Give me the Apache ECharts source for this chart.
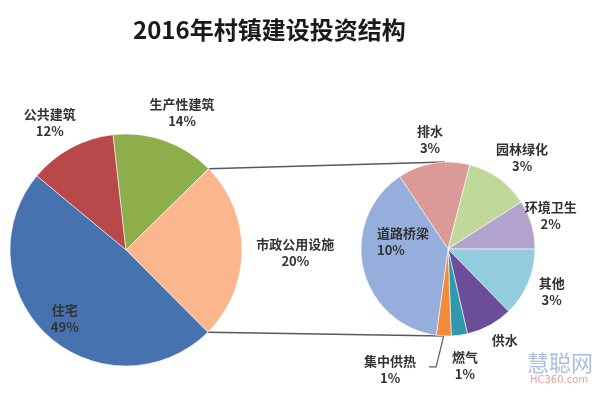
<!DOCTYPE html>
<html><head><meta charset="utf-8">
<script src="https://cdn.jsdelivr.net/npm/echarts@6/dist/echarts.min.js"></script>
<style>html,body{margin:0;padding:0;background:#fff}#c{width:600px;height:394px}</style>
</head><body><div id="c"></div>
<script>
// ---- data ----
const titleText = '2016年村镇建设投资结构';
const mainNames = ['公共建筑', '生产性建筑', '市政公用设施', '住宅'];
const mainValues = [12.2, 14.4, 24.9, 48.5];
const mainLabels = ['12%', '14%', '20%', '49%'];
const subNames = ['排水', '园林绿化', '环境卫生', '其他', '供水', '燃气', '集中供热', '道路桥梁'];
const subValues = [13.4, 11.9, 9.1, 12.7, 8.7, 3.0, 2.75, 38.5];
const subLabels = ['3%', '3%', '2%', '3%', '', '1%', '1%', '10%'];
const watermark = ['慧聪网', 'HC360.com'];

// ---- layout / style ----
const mainColors = ['#B9484A', '#8DAE4A', '#FBB68E', '#4772B0'];
const subColors = ['#DB9A98', '#C0D89A', '#B2A2CE', '#93CDDD', '#6B4E9A', '#2F9AAE', '#F08B3A', '#95AEDB'];
const L = { cx: 126, cy: 250, r: 116, start: 140.3 };
const R = { cx: 448, cy: 249, r: 87, start: 123.7 };
const mainLabelPolar = [[120.9, 1.28], [67.8, 1.28], [-1, 1.46], [228.1, 0.79]];
const subLabelPolar = [[99.3, 1.28], [50.9, 1.35], [17.8, 1.24], [-22.5, 1.29], [-58, 1.23], [-81.7, 1.35], [-115.6, 1.54], [174.4, 0.82]];
const connectAngles = [92, -93];
const explodedIndex = 2;
const leaderIndex = 6;
const leftAlignIndex = 7;

function pt(c, ang, f) {
  const a = ang * Math.PI / 180;
  return [c.cx + c.r * f * Math.cos(a), c.cy - c.r * f * Math.sin(a)];
}
function sliceAngles(values, start) {
  const tot = values.reduce((s, v) => s + v, 0);
  let a = start; const out = [];
  values.forEach(v => { const s = 360 * v / tot; out.push([a, a - s]); a -= s; });
  return out;
}
const mainAng = sliceAngles(mainValues, L.start);
const subAng = sliceAngles(subValues, R.start);
const ex = mainAng[explodedIndex];
const lineColor = '#595959';
const labelFont = { fontSize: 13, fontFamily: 'Noto Sans CJK SC', color: '#333', lineHeight: 17, fontWeight: 'bold' };

const subLabelPos = subLabelPolar.map(p => pt(R, p[0], p[1]));
const leadMid = (subAng[leaderIndex][0] + subAng[leaderIndex][1]) / 2;
const lp0 = pt(R, leadMid, 1.0);
const lab = subLabelPos[leaderIndex];

const chart = echarts.init(document.getElementById('c'));
chart.setOption({
  animation: false,
  title: {
    text: titleText, left: 128, top: 13,
    textStyle: { fontSize: 24, fontWeight: 'bold', fontFamily: 'Noto Sans CJK SC', color: '#1a1a1a' }
  },
  series: [
    {
      type: 'pie', center: [L.cx, L.cy], radius: L.r, startAngle: L.start, clockwise: true,
      avoidLabelOverlap: false,
      itemStyle: { borderColor: 'rgba(255,255,255,0.7)', borderWidth: 0.8 },
      label: Object.assign({ show: true, position: 'outside', formatter: p => p.name + '\n' + mainLabels[p.dataIndex] }, labelFont),
      labelLine: { show: false },
      labelLayout: p => {
        const q = pt(L, mainLabelPolar[p.dataIndex][0], mainLabelPolar[p.dataIndex][1]);
        return { x: q[0], y: q[1], align: 'center', verticalAlign: 'middle' };
      },
      emphasis: { disabled: true },
      data: mainNames.map((n, i) => ({ name: n, value: mainValues[i], itemStyle: { color: mainColors[i] } }))
    },
    {
      type: 'pie', center: [R.cx, R.cy], radius: R.r, startAngle: R.start, clockwise: true,
      avoidLabelOverlap: false,
      itemStyle: { borderColor: 'rgba(255,255,255,0.7)', borderWidth: 0.8 },
      label: Object.assign({
        show: true, position: 'outside',
        formatter: p => subLabels[p.dataIndex] ? p.name + '\n' + subLabels[p.dataIndex] : p.name
      }, labelFont),
      labelLine: { show: false },
      labelLayout: p => {
        const q = subLabelPos[p.dataIndex];
        const left = p.dataIndex === leftAlignIndex;
        return { x: q[0], y: q[1], align: left ? 'left' : 'center', verticalAlign: 'middle' };
      },
      emphasis: { disabled: true },
      data: subNames.map((n, i) => ({
        name: n, value: subValues[i], itemStyle: { color: subColors[i] },
        label: i === leftAlignIndex ? { align: 'left' } : undefined
      }))
    }
  ],
  graphic: [
    { type: 'line', silent: true, shape: (() => { const a = pt(L, ex[0], 1), b = pt(R, connectAngles[0], 1); return { x1: a[0], y1: a[1], x2: b[0], y2: b[1] }; })(), style: { stroke: lineColor, lineWidth: 1.5 } },
    { type: 'line', silent: true, shape: (() => { const a = pt(L, ex[1], 1), b = pt(R, connectAngles[1], 1); return { x1: a[0], y1: a[1], x2: b[0], y2: b[1] }; })(), style: { stroke: lineColor, lineWidth: 1.5 } },
    { type: 'polyline', silent: true, shape: { points: [lp0, [lab[0] + 46, lab[1] - 3], [lab[0] + 39, lab[1] - 3]] }, style: { stroke: lineColor, lineWidth: 1.2, fill: null } },
    { type: 'text', silent: true, left: 527, top: 352, style: { text: watermark[0], fontSize: 22, fontFamily: 'Noto Sans CJK SC', fill: '#A9BDE2' } },
    { type: 'text', silent: true, left: 530, top: 375, style: { text: watermark[1], fontSize: 10, fontFamily: 'DejaVu Sans', fill: '#E9A3A3' } }
  ]
});
</script>
</body></html>
